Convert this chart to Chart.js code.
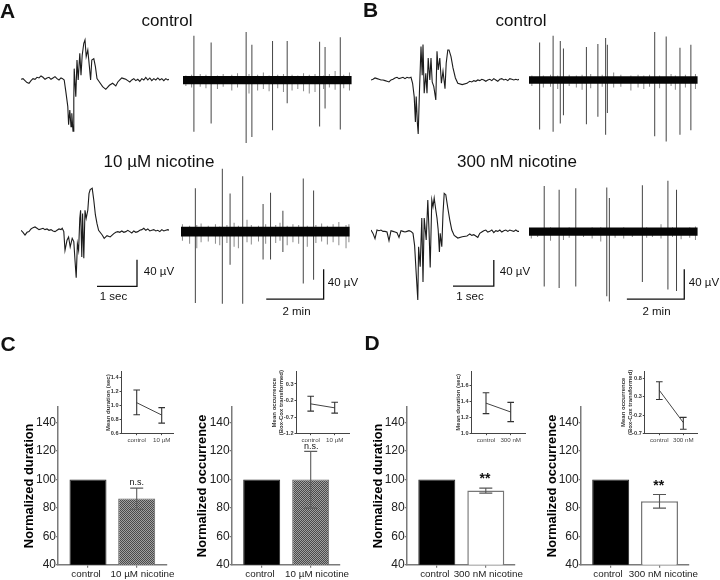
<!DOCTYPE html>
<html><head><meta charset="utf-8">
<style>
html,body{margin:0;padding:0;background:#fff;width:720px;height:580px;overflow:hidden}
#stage{position:relative;width:720px;height:580px;font-family:"Liberation Sans",Arial,sans-serif;color:#111;filter:blur(.3px)}
#stage canvas{position:absolute}
.t{position:absolute;white-space:nowrap;transform:translate(-50%,-50%);line-height:1}
</style>
<script src="https://cdn.jsdelivr.net/npm/chart.js@4"></script>
</head><body><div id="stage"></div>
<script>
// ---- waveforms: time (sec), voltage (µV) ----
const frontT=[0,.05,.1,.15,.2,.25,.3,.35,.4,.45,.5,.55,.6,.65,.7,.75,.8,.85,.9,.95,1];
const tailT=[2.42,2.47,2.52,2.57,2.62,2.67,2.72,2.77,2.82,2.87,2.92,2.97,3.02,3.07,3.12,3.17,3.22,3.27,3.32,3.37,3.42,3.47,3.52,3.57,3.62,3.67,3.71];
const waveACtrlT=[...frontT,1.04,1.08,1.12,1.17,1.19,1.22,1.25,1.27,1.3,1.32,1.33,1.37,1.4,1.43,1.47,1.5,1.53,1.57,1.6,1.63,1.67,1.71,1.74,1.77,1.82,1.86,1.9,1.96,2.04,2.12,2.21,2.29,2.37,...tailT];
const waveACtrlV=[0,1,-2,-5,-6,-2,1,0,3,2,5,3,0,2,3,0,2,4,1,-1,2,1,-1,-18,-41,-68,-46,-71,-51,-78,-31,16,-26,29,-1,39,6,36,54,59,34,44,19,-1,29,31,19,1,-4,-11,-15,-9,-6,-10,-4,-1,2,1,0,-2,-4,-1,1,-2,0,-3,1,-1,3,-1,2,-2,1,-1,2,-1,1,-2,1,-1,0];
const waveANicT=[...frontT,1.03,1.07,1.1,1.15,1.19,1.23,1.28,1.32,1.35,1.38,1.41,1.44,1.47,1.49,1.52,1.54,1.57,1.6,1.63,1.67,1.7,1.73,1.78,1.82,1.86,1.9,1.94,2.03,2.08,2.15,2.23,2.32,2.37,...tailT];
const waveANicV=[0,-3,-7,-3,-2,2,4,5,3,1,2,3,1,2,0,1,-1,-2,0,2,1,3,-2,-30,-15,-10,-25,-12,-17,-45,-71,-20,-30,18,30,-40,25,-42,30,18,30,55,61,63,45,23,10,0,-7,-12,-8,-10,-5,-3,-2,-3,-1,-3,-2,0,-2,-4,-1,-3,-2,0,1,3,0,2,-1,0,1,-1,0,-2,1,-1,0,1,0];
const waveBCtrlT=[...frontT,1.04,1.08,1.11,1.13,1.16,1.18,1.21,1.25,1.28,1.3,1.33,1.37,1.4,1.43,1.47,1.5,1.53,1.57,1.62,1.65,1.68,1.72,1.76,1.8,1.85,1.88,1.92,1.95,2,2.05,2.11,2.17,2.28,2.4,...tailT];
const waveBCtrlV=[-1,0,2,1,0,-1,-1,-2,-3,-4,-1,0,2,3,1,2,3,1,3,2,3,-6,-26,-64,-26,-66,-82,-21,49,6,52,-21,9,-21,32,-1,32,-4,-11,-31,42,14,32,-6,12,-14,24,44,44,34,17,2,-6,-8,-6,-5,-3,-4,-2,-3,-1,-2,0,-1,-3,-1,0,-2,1,-1,-3,0,1,-1,0,-2,1,0,-1,0,-1,0];
const waveBNicT=[...frontT,1.05,1.09,1.13,1.17,1.19,1.23,1.27,1.3,1.33,1.38,1.42,1.45,1.48,1.52,1.55,1.58,1.62,1.65,1.68,1.71,1.73,1.77,1.8,1.83,1.87,1.92,1.97,2.02,2.08,2.17,2.28,2.4,...tailT];
const waveBNicV=[1,-4,-12,1,0,1,-1,-1,-2,-15,0,-1,-2,-3,-10,0,-1,-2,-1,0,-1,-4,-22,-64,-104,-24,-54,19,-77,19,-14,46,1,-55,46,36,49,31,19,1,-32,-4,-24,26,56,54,34,16,1,-7,-11,-9,-8,-7,-5,-7,-6,-8,-10,-4,-2,0,1,-2,-1,1,-3,0,-1,1,-2,0,1,-1,1,0,-1,1,-1,-1];

// ---- spikes: time (min), top and bottom (µV) ----
const spikeACtrlT=[.38,.98,2.2,2.4,3.12,3.63,4.76,4.95,5.48];
const spikeACtrlTop=[59,50,64,47,52,52,51,44,57];
const spikeACtrlBot=[-69,-58,-84,-76,-67,-31,-62,-38,-66];
const spikeANicT=[.5,1.44,1.71,2.15,2.86,3.12,3.55,4.26,4.62];
const spikeANicTop=[58,84,51,74,37,52,28,71,55];
const spikeANicBot=[-95,-96,-44,-96,-37,-37,-27,-69,-64];
const spikeBCtrlT=[.37,.84,1.09,1.2,2,2.4,2.67,2.73,4.38,4.78,5.26,5.64];
const spikeBCtrlTop=[50,59,52,42,44,48,56,47,64,58,43,47];
const spikeBCtrlBot=[-66,-69,-58,-47,-59,-49,-73,-44,-75,-82,-73,-67];
const spikeBNicT=[.53,1.05,1.63,2.71,2.8,3.95,4.84,5.14];
const spikeBNicTop=[61,56,58,59,45,62,68,56];
const spikeBNicBot=[-73,-75,-73,-86,-93,-67,-77,-79];

// ---- noise fringe round the baseline: time (min), low and high (µV) ----
const fringeACtrlT=[.1,.3,.6,.8,1.2,1.4,1.7,1.9,2.3,2.6,2.8,3,3.3,3.5,3.8,4,4.2,4.4,4.6,4.9,5.1,5.3,5.6,5.8];
const fringeACtrlLo=[-8,-10,-9,-11,-12,-9,-14,-10,-18,-14,-12,-15,-11,-16,-14,-12,-15,-18,-16,-12,-10,-13,-11,-14];
const fringeACtrlHi=[6,7,8,7,6,8,7,9,8,7,10,6,7,8,7,6,9,7,8,6,8,12,7,10];
const fringeANicT=[.05,.3,.55,.7,.95,1.2,1.35,1.6,1.85,2,2.3,2.45,2.7,2.95,3.3,3.45,3.7,3.9,4.1,4.4,4.7,4.9,5.1,5.3,5.5,5.75,5.85];
const fringeANicLo=[-12,-16,-22,-14,-13,-16,-18,-15,-20,-22,-14,-17,-13,-16,-15,-12,-18,-14,-16,-20,-15,-13,-17,-14,-18,-22,-14];
const fringeANicHi=[10,8,9,11,8,10,7,9,12,8,16,9,8,10,9,12,8,10,9,8,9,11,8,10,13,9,10];
const fringeBCtrlT=[.1,.5,.75,1,1.4,1.65,1.85,2.15,2.55,2.95,3.2,3.55,3.8,4,4.2,4.55,4.95,5.1,5.45,5.8];
const fringeBCtrlLo=[-8,-10,-9,-12,-8,-10,-13,-11,-9,-10,-9,-14,-10,-12,-9,-11,-8,-13,-10,-12];
const fringeBCtrlHi=[6,6,7,6,7,6,7,8,7,10,7,6,7,6,7,6,8,6,7,8];
const fringeBNicT=[.08,.3,.75,1.2,1.4,1.9,2.2,2.5,3,3.3,3.6,4.1,4.3,4.6,5,5.3,5.6,5.8];
const fringeBNicLo=[-9,-7,-12,-11,-8,-7,-9,-13,-8,-9,-7,-8,-7,-9,-7,-10,-8,-11];
const fringeBNicHi=[5,5,6,5,6,5,6,6,5,6,5,6,5,10,6,5,6,7];

// ---- bar panels ----
const barCats10=['control','10 µM nicotine'];
const barCats300=['control','300 nM nicotine'];
const durC=[100,86.6], durCHi=[null,93.9], durCLo=[null,79];
const occC=[100,100], occCHi=[null,119.8], occCLo=[null,79.8];
const durD=[100,92.3], durDHi=[null,93.9], durDLo=[null,90.4];
const occD=[100,84.7], occDHi=[null,89.4], occDLo=[null,79.8];
const barTicks=[40,60,80,100,120,140];

// ---- inset panels ----
const inCats10=['control','10 µM'];
const inCats300=['control','300 nM'];
const inDurC=[1.04,.865], inDurCHi=[1.22,.97], inDurCLo=[.87,.75], inDurCTicks=[.6,.8,1,1.2,1.4];
const inOccC=[-.3,-.42], inOccCHi=[-.07,-.25], inOccCLo=[-.52,-.58], inOccCTicks=[-1.2,-.7,-.2,.3];
const inDurD=[1.38,1.27], inDurDHi=[1.51,1.39], inDurDLo=[1.25,1.15], inDurDTicks=[1,1.2,1.4,1.6];
const inOccD=[.47,-.4], inOccDHi=[.7,-.26], inOccDLo=[.22,-.58], inOccDTicks=[-.7,-.2,.3,.8];

const stage=document.getElementById('stage');
const FONT='"Liberation Sans", Arial, sans-serif';
Chart.defaults.font.family=FONT;
function canvas(l,t,w,h){const c=document.createElement('canvas');c.width=w;c.height=h;c.style.left=l+'px';c.style.top=t+'px';c.style.width=w+'px';c.style.height=h+'px';stage.appendChild(c);return c;}
const base={responsive:false,animation:false,devicePixelRatio:1,events:[]};
const noPlugins={legend:{display:false},tooltip:{enabled:false},title:{display:false}};
const pts=(xs,ys)=>xs.map((x,i)=>({x,y:ys[i]}));
const hidden=(min,max)=>({type:'linear',display:false,min,max,offset:false});

function waveform(b,ts,vs,bar){
  new Chart(canvas(b.l,b.t,b.w,b.h),{type:'line',data:{datasets:[
    {data:pts(ts,vs),borderColor:'#1c1c1c',borderWidth:1.1,pointRadius:0,tension:0},
    ...(bar?[{data:bar,borderColor:'#111',borderWidth:1.3,pointRadius:0,tension:0}]:[])
  ]},options:{...base,layout:{padding:0},plugins:noPlugins,scales:{x:hidden(0,b.xMax),y:hidden(b.yMin,b.yMax)}}});
}
function raster(b,s,f,core,bar){
  const floating=(xs,lo,hi)=>xs.map((x,i)=>({x,y:[lo[i],hi[i]]}));
  const barOpts={type:'bar',barThickness:1,grouped:false,borderWidth:0,inflateAmount:0};
  new Chart(canvas(b.l,b.t,b.w,b.h),{data:{datasets:[
    {...barOpts,data:floating(s[0],s[2],s[1]),backgroundColor:'#444',order:2},
    {...barOpts,data:floating(f[0],f[1],f[2]),backgroundColor:'#8a8a8a',order:3},
    {type:'line',data:[{x:0,y:core},{x:b.tEnd,y:core}],borderColor:'#000',borderWidth:0,pointRadius:0,fill:{value:-core},backgroundColor:'#050505',order:1},
    ...(bar?[{type:'line',data:bar,borderColor:'#111',borderWidth:1.3,pointRadius:0,tension:0,order:0}]:[])
  ]},options:{...base,layout:{padding:0},plugins:noPlugins,scales:{x:hidden(0,b.xMax),y:hidden(b.yMin,b.yMax)}}});
}
function errPlugin(lo,hi,cap,color,width){
  return {id:'err',afterDatasetsDraw(ch){
    const c=ch.ctx,X=ch.scales.x,Y=ch.scales.y;
    c.save();c.strokeStyle=color;c.lineWidth=width;
    lo.forEach((v,i)=>{ if(v==null)return;
      const x=X.getPixelForValue(i),a=Y.getPixelForValue(v),d=Y.getPixelForValue(hi[i]);
      c.beginPath();c.moveTo(x,a);c.lineTo(x,d);
      c.moveTo(x-cap,a);c.lineTo(x+cap,a);c.moveTo(x-cap,d);c.lineTo(x+cap,d);c.stroke();
    });c.restore();
  }};
}
const zeroPad=s=>{s.paddingLeft=0;s.paddingRight=0;s.paddingTop=0;s.paddingBottom=0;};
function hatch(){
  const p=document.createElement('canvas');p.width=2;p.height=2;const g=p.getContext('2d');
  g.fillStyle='#a0a0a0';g.fillRect(0,0,2,2);g.fillStyle='#4a4a4a';g.fillRect(0,0,1,1);g.fillRect(1,1,1,1);
  return g.createPattern(p,'repeat');
}
function barPanel(b,cats,vals,lo,hi,second,title,titleSize){
  const sp=b.c1-b.c0, xMin=(b.axL-b.c0)/sp, xMax=(b.axR-b.c0)/sp;
  const ax='#7a7a7a';
  const second0=second==='hatch'?hatch():'#fff';
  new Chart(canvas(b.l,400,b.w,180),{type:'bar',data:{datasets:[{
    data:pts([0,1],vals),barThickness:b.bw,backgroundColor:['#000',second0],
    borderColor:['#222',second==='hatch'?'#666':'#777'],borderWidth:[1,second==='hatch'?1:1.5],inflateAmount:0
  }]},options:{...base,layout:{padding:{top:7,right:b.l+b.w-b.axR,left:0,bottom:0}},plugins:noPlugins,
    scales:{
      x:{type:'linear',position:'bottom',weight:0,min:xMin,max:xMax,offset:false,
        afterBuildTicks:s=>{s.ticks=[{value:0},{value:1}];},
        afterFit:s=>{s.height=4;zeroPad(s);},
        grid:{drawOnChartArea:false,drawTicks:true,tickLength:3,color:ax,lineWidth:1.2,offset:false},
        border:{display:true,color:ax,width:1.5},ticks:{display:false}},
      x2:{type:'linear',position:'bottom',weight:1,min:xMin,max:xMax,offset:false,
        afterBuildTicks:s=>{s.ticks=b.labelAt.map(value=>({value}));},
        afterFit:s=>{s.height=11.3;zeroPad(s);},
        grid:{display:false,drawTicks:false},border:{display:false},
        ticks:{padding:0,autoSkip:false,maxRotation:0,minRotation:0,color:'#222',font:{size:9.8},callback:(v,i)=>cats[i]}},
      y:{type:'linear',min:40,max:151,
        afterBuildTicks:s=>{s.ticks=barTicks.map(value=>({value}));},
        afterFit:s=>{s.width=b.axL-b.l;zeroPad(s);},
        grid:{drawOnChartArea:false,drawTicks:true,tickLength:2,color:ax,lineWidth:1.2},
        border:{display:true,color:ax,width:1.5},
        ticks:{padding:0,color:'#222',font:{size:12},autoSkip:false,includeBounds:false,callback:v=>String(v)},
        title:{display:true,text:title,color:'#000',padding:0,font:{size:titleSize,weight:'bold'}}}
    }},plugins:[errPlugin(lo,hi,6.5,second==='hatch'?'#5c5c5c':'#555',1.1)]});
}
function inset(b,cats,vals,lo,hi,ticks,title){
  const sp=b.c1-b.c0, xMin=(b.axL-b.c0)/sp, xMax=(b.axR-b.c0)/sp;
  const ax='#444';
  new Chart(canvas(b.l,365,b.w,80),{type:'line',data:{datasets:[{
    data:pts([0,1],vals),borderColor:'#444',borderWidth:1,pointRadius:0,tension:0
  }]},options:{...base,layout:{padding:{top:b.top-365,right:b.l+b.w-b.axR,left:0,bottom:0}},plugins:noPlugins,
    scales:{
      x:{type:'linear',min:xMin,max:xMax,offset:false,
        afterBuildTicks:s=>{s.ticks=[{value:0},{value:1}];},
        afterFit:s=>{s.height=11.3;zeroPad(s);},
        grid:{drawOnChartArea:false,drawTicks:true,tickLength:1.5,color:ax},
        border:{display:true,color:ax,width:1},
        ticks:{padding:1,autoSkip:false,maxRotation:0,minRotation:0,color:'#444',font:{size:6.2},callback:(v,i)=>cats[i]}},
      y:{type:'linear',min:b.yMin,max:b.yMax,
        afterBuildTicks:s=>{s.ticks=ticks.map(value=>({value}));},
        afterFit:s=>{s.width=b.axL-b.l;zeroPad(s);},
        grid:{drawOnChartArea:false,drawTicks:true,tickLength:1.5,color:ax},
        border:{display:true,color:ax,width:1},
        ticks:{padding:1,color:'#333',autoSkip:false,includeBounds:false,font:{size:5.6,weight:'bold'},callback:v=>v.toFixed(1)},
        title:{display:true,text:title,color:'#333',padding:0,font:{size:6,weight:'bold'}}}
    }},plugins:[errPlugin(lo,hi,3.3,'#333',1.1)]});
}

// ---- traces ----
const wy=(t,h,zero)=>({yMax:(zero-t)*1.5,yMin:(zero-t-h)*1.5});
const ry=(t,h,zero)=>({yMax:(zero-t)/.75,yMin:(zero-t-h)/.75});
waveform({l:21,t:20,w:148,h:130,xMax:3.7,...wy(20,130,79.3)},waveACtrlT,waveACtrlV);
waveform({l:21,t:170,w:148,h:135,xMax:3.7,...wy(170,135,230.3)},waveANicT,waveANicV,[{x:1.9,y:-84},{x:2.9,y:-84},{x:2.9,y:-44}]);
waveform({l:371,t:20,w:148,h:130,xMax:3.7,...wy(20,130,79.3)},waveBCtrlT,waveBCtrlV);
waveform({l:371,t:170,w:148,h:135,xMax:3.7,...wy(170,135,230.7)},waveBNicT,waveBNicV,[{x:2.05,y:-83},{x:3.07,y:-83},{x:3.07,y:-44}]);
const rw={w:172,xMax:172/28.7,tEnd:5.88};
raster({...rw,l:183,t:25,h:130,...ry(25,130,80)},[spikeACtrlT,spikeACtrlTop,spikeACtrlBot],[fringeACtrlT,fringeACtrlLo,fringeACtrlHi],5.5);
raster({...rw,l:181,t:160,h:160,...ry(160,160,231.7)},[spikeANicT,spikeANicTop,spikeANicBot],[fringeANicT,fringeANicLo,fringeANicHi],6.5,[{x:2.97,y:-90},{x:4.97,y:-90},{x:4.97,y:-50}]);
raster({...rw,l:529,t:25,h:130,...ry(25,130,80)},[spikeBCtrlT,spikeBCtrlTop,spikeBCtrlBot],[fringeBCtrlT,fringeBCtrlLo,fringeBCtrlHi],5);
raster({...rw,l:529,t:160,h:160,...ry(160,160,231.7)},[spikeBNicT,spikeBNicTop,spikeBNicBot],[fringeBNicT,fringeBNicLo,fringeBNicHi],5.5,[{x:3.41,y:-90},{x:5.41,y:-90},{x:5.41,y:-50}]);

// ---- bars ----
barPanel({l:22,w:165,axL:58,axR:167,c0:88,c1:136.7,bw:37,labelAt:[-.04,1.12]},barCats10,durC,durCLo,durCHi,'hatch','Normalized duration',12.9);
barPanel({l:195,w:165,axL:231.7,axR:340,c0:261.7,c1:310.7,bw:37,labelAt:[-.035,1.13]},barCats10,occC,occCLo,occCHi,'hatch','Normalized occurrence',12.9);
barPanel({l:371,w:165,axL:406.7,axR:515,c0:436.8,c1:485.8,bw:37,labelAt:[-.04,1.05]},barCats300,durD,durDLo,durDHi,'open','Normalized duration',12.9);
barPanel({l:545,w:175,axL:580.7,axR:689,c0:610.7,c1:659.5,bw:37,labelAt:[-.055,1.08]},barCats300,occD,occDLo,occDHi,'open','Normalized occurrence',12.9);

// ---- insets ----
inset({l:105,w:78,axL:121,axR:173,c0:136.7,c1:161.7,top:371.7,yMin:.6,yMax:1.48},inCats10,inDurC,inDurCLo,inDurCHi,inDurCTicks,'Mean duration (sec)');
inset({l:271,w:88,axL:296,axR:349,c0:310.7,c1:334.7,top:371.7,yMin:-1.2,yMax:.67},inCats10,inOccC,inOccCLo,inOccCHi,inOccCTicks,['Mean occurrence','(Box-Cox transformed)']);
inset({l:455,w:80,axL:471,axR:525.7,c0:486,c1:510.7,top:371,yMin:1,yMax:1.78},inCats300,inDurD,inDurDLo,inDurDHi,inDurDTicks,'Mean duration (sec)');
inset({l:620,w:90,axL:644.3,axR:697.3,c0:659.3,c1:683.3,top:371,yMin:-.7,yMax:.99},inCats300,inOccD,inOccDLo,inOccDHi,inOccDTicks,['Mean occurrence','(Box-Cox transformed)']);

// ---- text ----
const labels=[
 ['A',7.5,10,21,'bold'],['B',370.5,9,21,'bold'],['C',8,343,21,'bold'],['D',372,342,21,'bold'],
 ['control',167,20,17],['10 µM nicotine',159,161,17],['control',521,20,17],['300 nM nicotine',517,161,17],
 ['40 µV',159,272,11.5],['1 sec',113.5,297,11.5],['40 µV',343,283,11.5],['2 min',296.5,312,11.5],
 ['40 µV',515,272,11.5],['1 sec',470,297,11.5],['40 µV',704,283,11.5],['2 min',656.5,312,11.5],
 ['n.s.',136.7,482,9],['n.s.',311.3,445.7,9],['**',485,477.5,14,'bold'],['**',658.7,484.5,14,'bold']
];
labels.forEach(([s,x,y,size,w])=>{const d=document.createElement('div');d.className='t';d.textContent=s;
  d.style.left=x+'px';d.style.top=y+'px';d.style.fontSize=size+'px';if(w)d.style.fontWeight=w;stage.appendChild(d);});
</script></body></html>
